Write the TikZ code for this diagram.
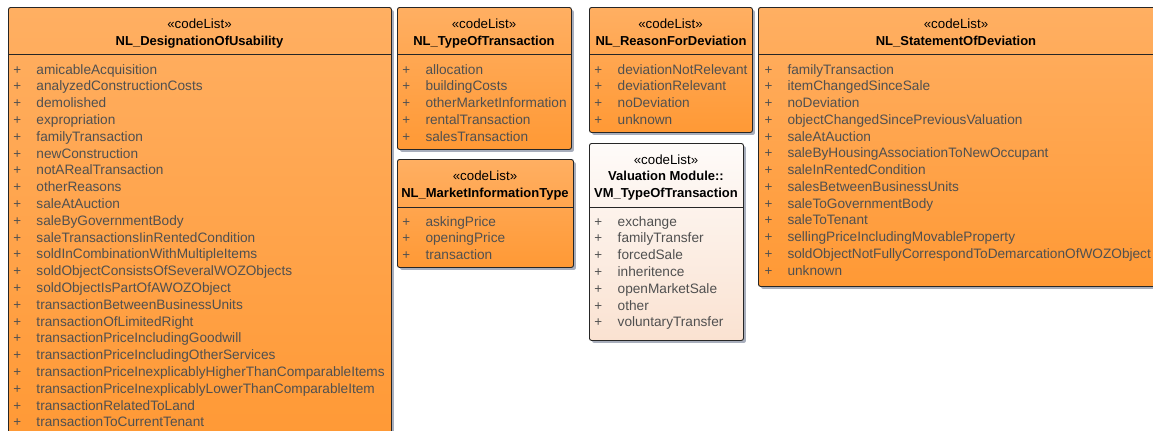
\documentclass[tikz,border=0pt]{standalone}
\usepackage{fontspec}
\setmainfont{Liberation Sans}
\usetikzlibrary{shadows}
\definecolor{orTop}{HTML}{FFAF62}
\definecolor{orBot}{HTML}{FF9935}
\definecolor{vmTop}{HTML}{FEFBF9}
\definecolor{vmBot}{HTML}{FAE2D1}
\definecolor{itemgray}{HTML}{505050}
\definecolor{shadowc}{HTML}{A8AEBC}
\definecolor{edgec}{HTML}{262626}
\tikzset{
 classbox/.style={draw=edgec, line width=0.9bp, rounded corners=2.2bp, inner sep=0pt, anchor=north west,
   drop shadow={shadow xshift=2.5bp, shadow yshift=-2.5bp, fill=shadowc, opacity=1}},
 orangebox/.style={classbox, top color=orTop, bottom color=orBot},
 vmbox/.style={classbox, top color=vmTop, bottom color=vmBot},
 stereo/.style={font=\fontsize{13.3bp}{16bp}\selectfont, text=black, inner sep=0pt, anchor=base},
 cname/.style={font=\fontsize{13bp}{16bp}\selectfont\bfseries, text=black, inner sep=0pt, anchor=base},
 item/.style={font=\fontsize{13.65bp}{16bp}\selectfont, text=itemgray, inner sep=0pt, anchor=base west},
 plus/.style={font=\fontsize{13.4bp}{16bp}\selectfont, text=itemgray, inner sep=0pt, anchor=base},
 sepline/.style={draw=edgec, line width=0.9bp}
}
\begin{document}
\begin{tikzpicture}[x=1bp,y=-1bp]
\useasboundingbox (0,0) rectangle (1153,430);

% ---------- Box 1: NL_DesignationOfUsability
\node[orangebox, minimum width=383bp, minimum height=436bp] (b1) at (8,7) {};
\draw[sepline] (b1.north west |- 0,54) -- (b1.north east |- 0,54);
\node[stereo] (b1s) at (199.5,28.5) {«codeList»};
\node[cname] (b1n) at (199.5,45) {NL\_DesignationOfUsability};
\foreach \t [count=\i] in {amicableAcquisition,analyzedConstructionCosts,demolished,expropriation,familyTransaction,newConstruction,notARealTransaction,otherReasons,saleAtAuction,saleByGovernmentBody,saleTransactionsIinRentedCondition,soldInCombinationWithMultipleItems,soldObjectConsistsOfSeveralWOZObjects,soldObjectIsPartOfAWOZObject,transactionBetweenBusinessUnits,transactionOfLimitedRight,transactionPriceIncludingGoodwill,transactionPriceIncludingOtherServices,transactionPriceInexplicablyHigherThanComparableItems,transactionPriceInexplicablyLowerThanComparableItem,transactionRelatedToLand,transactionToCurrentTenant}{
  \node[plus] (b1p\i) at (17.3,{74+16.8*(\i-1)}) {+};
  \node[item] (b1i\i) at (36.3,{74+16.8*(\i-1)}) {\t};
}

% ---------- Box 2: NL_TypeOfTransaction
\node[orangebox, minimum width=174bp, minimum height=142bp] (b2) at (397,7) {};
\draw[sepline] (b2.north west |- 0,54) -- (b2.north east |- 0,54);
\node[stereo] (b2s) at (484,28.5) {«codeList»};
\node[cname] (b2n) at (484,45) {NL\_TypeOfTransaction};
\foreach \t [count=\i] in {allocation,buildingCosts,otherMarketInformation,rentalTransaction,salesTransaction}{
  \node[plus] (b2p\i) at (406.3,{74+16.8*(\i-1)}) {+};
  \node[item] (b2i\i) at (425.3,{74+16.8*(\i-1)}) {\t};
}

% ---------- Box 3: NL_MarketInformationType
\node[orangebox, minimum width=176bp, minimum height=108bp] (b3) at (397,159) {};
\draw[sepline] (b3.north west |- 0,207) -- (b3.north east |- 0,207);
\node[stereo] (b3s) at (485,180.5) {«codeList»};
\node[cname] (b3n) at (485,197) {NL\_MarketInformationType};
\foreach \t [count=\i] in {askingPrice,openingPrice,transaction}{
  \node[plus] (b3p\i) at (406.3,{226+16.8*(\i-1)}) {+};
  \node[item] (b3i\i) at (425.3,{226+16.8*(\i-1)}) {\t};
}

% ---------- Box 4: NL_ReasonForDeviation
\node[orangebox, minimum width=163bp, minimum height=125bp] (b4) at (589,7) {};
\draw[sepline] (b4.north west |- 0,54) -- (b4.north east |- 0,54);
\node[stereo] (b4s) at (670.5,28.5) {«codeList»};
\node[cname] (b4n) at (671,45) {NL\_ReasonForDeviation};
\foreach \t [count=\i] in {deviationNotRelevant,deviationRelevant,noDeviation,unknown}{
  \node[plus] (b4p\i) at (598.3,{74+16.8*(\i-1)}) {+};
  \node[item] (b4i\i) at (617.5,{74+16.8*(\i-1)}) {\t};
}

% ---------- Box 5: Valuation Module::VM_TypeOfTransaction
\node[vmbox, minimum width=154bp, minimum height=197bp] (b5) at (589,143) {};
\draw[sepline] (b5.north west |- 0,207) -- (b5.north east |- 0,207);
\node[stereo] (b5s) at (666,164.5) {«codeList»};
\node[cname] (b5n) at (666,180.5) {Valuation Module::};
\node[cname] (b5m) at (666,197.3) {VM\_TypeOfTransaction};
\foreach \t [count=\i] in {exchange,familyTransfer,forcedSale,inheritence,openMarketSale,other,voluntaryTransfer}{
  \node[plus] (b5p\i) at (598.3,{226+16.8*(\i-1)}) {+};
  \node[item] (b5i\i) at (617.5,{226+16.8*(\i-1)}) {\t};
}

% ---------- Box 6: NL_StatementOfDeviation
\node[orangebox, minimum width=408bp, minimum height=279bp] (b6) at (758,7) {};
\draw[sepline] (b6.north west |- 0,54) -- (b6.north east |- 0,54);
\node[stereo] (b6s) at (956,28.5) {«codeList»};
\node[cname] (b6n) at (956,45) {NL\_StatementOfDeviation};
\foreach \t [count=\i] in {familyTransaction,itemChangedSinceSale,noDeviation,objectChangedSincePreviousValuation,saleAtAuction,saleByHousingAssociationToNewOccupant,saleInRentedCondition,salesBetweenBusinessUnits,saleToGovernmentBody,saleToTenant,sellingPriceIncludingMovableProperty,soldObjectNotFullyCorrespondToDemarcationOfWOZObject,unknown}{
  \node[plus] (b6p\i) at (768.5,{74+16.75*(\i-1)}) {+};
  \node[item] (b6i\i) at (787.3,{74+16.75*(\i-1)}) {\t};
}
\end{tikzpicture}
\end{document}
